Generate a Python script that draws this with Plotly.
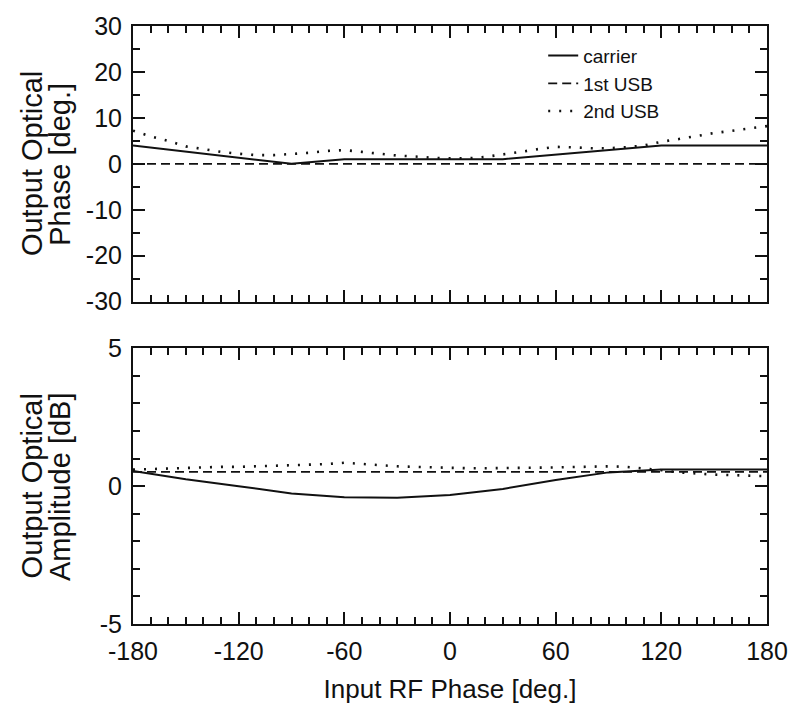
import plotly.graph_objects as go
from plotly.subplots import make_subplots

# ---- data ----
phase_deg = [-180, -170, -160, -150, -140, -130, -120, -110, -100, -90, -80, -70, -60, -50, -40, -30, -20, -10,
             0, 10, 20, 30, 40, 50, 60, 70, 80, 90, 100, 110, 120, 130, 140, 150, 160, 170, 180]

carrier_phase_x = [-180, -90, -60, 0, 30, 120, 180]
carrier_phase = [4.0, 0.0, 1.0, 1.0, 1.0, 4.0, 4.0]

usb1_phase_x = [-180, 180]
usb1_phase = [0.0, 0.0]

usb2_phase = [7.2, 6.0, 5.0, 3.8, 3.2, 2.6, 2.2, 1.9, 1.9, 2.1, 2.4, 2.8, 3.0, 2.6, 2.2, 1.8, 1.6, 1.3,
              1.2, 1.2, 1.5, 2.0, 2.6, 3.2, 3.7, 3.6, 3.4, 3.4, 3.6, 4.0, 4.8, 5.4, 6.1, 6.7, 7.2, 7.7, 8.2]

carrier_amp_x = [-180, -150, -120, -90, -60, -30, 0, 30, 60, 90, 120, 150, 180]
carrier_amp = [0.55, 0.25, 0.0, -0.27, -0.4, -0.42, -0.32, -0.1, 0.22, 0.5, 0.6, 0.6, 0.6]

usb1_amp_x = [-180, 180]
usb1_amp = [0.52, 0.52]

usb2_amp = [0.6, 0.62, 0.65, 0.68, 0.7, 0.7, 0.7, 0.72, 0.72, 0.75, 0.78, 0.8, 0.85, 0.8, 0.75, 0.72, 0.7, 0.68,
            0.66, 0.65, 0.65, 0.65, 0.66, 0.67, 0.68, 0.7, 0.72, 0.72, 0.7, 0.65, 0.58, 0.5, 0.45, 0.42, 0.4, 0.38, 0.36]

x_ticks = [-180, -120, -60, 0, 60, 120, 180]
y_ticks_top = [-30, -20, -10, 0, 10, 20, 30]
y_ticks_bot = [-5, 0, 5]

top_title_lines = ["Output Optical", "Phase [deg.]"]
bot_title_lines = ["Output Optical", "Amplitude [dB]"]

FONT = "Liberation Sans, Arial, sans-serif"
BLACK = "#111111"

fig = make_subplots(rows=2, cols=1, shared_xaxes=False, vertical_spacing=0.0)

solid = dict(color=BLACK, width=2)
dashed = dict(color=BLACK, width=1.8, dash="9px,5px")
dotted = dict(color=BLACK, width=2.6, dash="2px,9px")

fig.add_trace(go.Scatter(x=carrier_phase_x, y=carrier_phase, mode="lines", line=solid, name="carrier"), row=1, col=1)
fig.add_trace(go.Scatter(x=usb1_phase_x, y=usb1_phase, mode="lines", line=dashed, name="1st USB"), row=1, col=1)
fig.add_trace(go.Scatter(x=phase_deg, y=usb2_phase, mode="lines", line=dotted, name="2nd USB"), row=1, col=1)

fig.add_trace(go.Scatter(x=carrier_amp_x, y=carrier_amp, mode="lines", line=solid, showlegend=False), row=2, col=1)
fig.add_trace(go.Scatter(x=usb1_amp_x, y=usb1_amp, mode="lines", line=dashed, showlegend=False), row=2, col=1)
fig.add_trace(go.Scatter(x=phase_deg, y=usb2_amp, mode="lines", line=dotted, showlegend=False), row=2, col=1)

axis_common = dict(
    showline=True, linecolor=BLACK, linewidth=2, mirror="allticks",
    ticks="inside", ticklen=12, tickwidth=1.5, tickcolor=BLACK,
    showgrid=False, zeroline=False,
    tickfont=dict(family=FONT, size=25, color=BLACK),
)

xaxis_cfg = dict(axis_common, range=[-180, 180], tickmode="array", tickvals=x_ticks,
                 ticktext=[str(v) for v in x_ticks], ticklabelstandoff=4,
                 minor=dict(dtick=10, tick0=0, ticks="inside", ticklen=7, tickwidth=1.5, tickcolor=BLACK, showgrid=False))

fig.update_xaxes(xaxis_cfg, row=1, col=1)
fig.update_xaxes(xaxis_cfg, row=2, col=1)
fig.update_xaxes(showticklabels=False, row=1, col=1)
fig.update_xaxes(title=dict(text="Input RF Phase [deg.]", font=dict(family=FONT, size=26, color=BLACK), standoff=16),
                 row=2, col=1)

fig.update_yaxes(axis_common, range=[-30, 30], tickmode="array", tickvals=y_ticks_top,
                 ticktext=[str(v) for v in y_ticks_top], ticklabelstandoff=4,
                 minor=dict(dtick=5, tick0=0, ticks="inside", ticklen=7, tickwidth=1.5, tickcolor=BLACK, showgrid=False),
                 row=1, col=1)
fig.update_yaxes(axis_common, range=[-5, 5], tickmode="array", tickvals=y_ticks_bot,
                 ticktext=[str(v) for v in y_ticks_bot], ticklabelstandoff=4,
                 minor=dict(dtick=1, tick0=0, ticks="inside", ticklen=7, tickwidth=1.5, tickcolor=BLACK, showgrid=False),
                 row=2, col=1)

# y-axis titles as two rotated lines (tighter line spacing than a <br> title)
PLOT_W = 642.0
LEFT = 133.0
line_px = [31, 59]
for yref, lines in (("y domain", top_title_lines), ("y2 domain", bot_title_lines)):
    for px, txt in zip(line_px, lines):
        fig.add_annotation(
            text=txt, textangle=-90, showarrow=False,
            xref="paper", x=(px - LEFT) / PLOT_W, xanchor="center",
            yref=yref, y=0.5, yanchor="middle",
            font=dict(family=FONT, size=29, color=BLACK),
        )

fig.update_layout(
    width=800, height=724,
    margin=dict(l=133, r=25, t=23, b=100),
    paper_bgcolor="white", plot_bgcolor="white",
    font=dict(family=FONT, color=BLACK),
    showlegend=True,
    legend=dict(x=0.647, y=0.982, xanchor="left", yanchor="top",
                bgcolor="rgba(0,0,0,0)", borderwidth=0,
                font=dict(family=FONT, size=19, color=BLACK),
                tracegroupgap=0, itemwidth=30),
)
fig.layout.yaxis.domain = [0.539, 1.0]
fig.layout.yaxis2.domain = [0.0, 0.461]

fig.write_html("out.html")
